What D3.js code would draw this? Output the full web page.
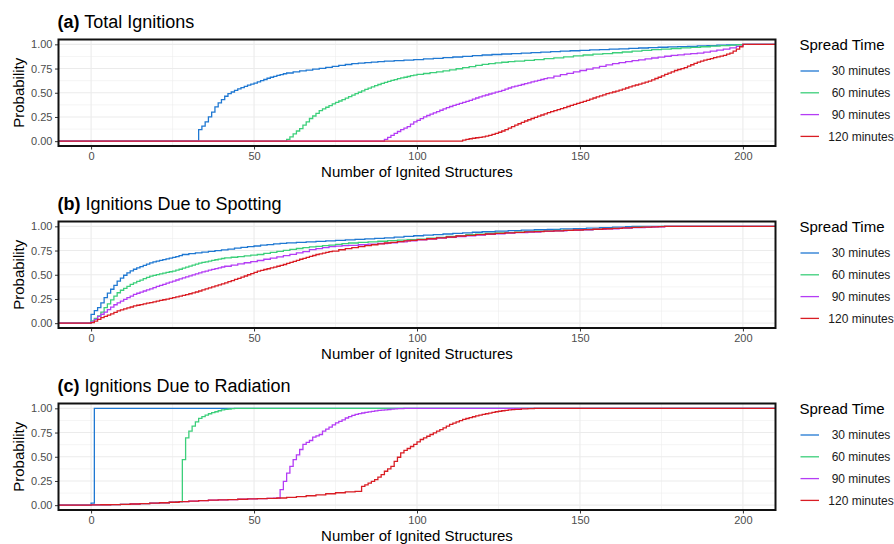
<!DOCTYPE html>
<html>
<head>
<meta charset="utf-8">
<script src="https://cdn.jsdelivr.net/npm/d3@7"></script>
<style>
  html, body { margin: 0; padding: 0; background: #fff; }
  svg { display: block; font-family: "Liberation Sans", Arial, sans-serif; }
</style>
</head>
<body>
<svg id="chart" width="894" height="544"></svg>
<script>
// ---- data: empirical CDF knots [structures, cumulative probability] ----
const seriesNames = ["30 minutes", "60 minutes", "90 minutes", "120 minutes"];
const panelTags = ["(a)", "(b)", "(c)"];
const panelTitles = ["Total Ignitions", "Ignitions Due to Spotting", "Ignitions Due to Radiation"];
const xTicks = [0, 50, 100, 150, 200];
const yTicks = [0, 0.25, 0.5, 0.75, 1];
const yTickLabels = ["0.00", "0.25", "0.50", "0.75", "1.00"];

// (a) total ignitions
const total30 = [[33,0.12],[34,0.155],[35,0.2],[36,0.25],[37,0.3],[38,0.354],[39,0.395],[40,0.43],[41,0.464],[42,0.49],[43,0.508],[44,0.525],[45,0.54],[46,0.553],[47,0.566],[48,0.578],[49,0.59],[50,0.6],[51,0.612],[52,0.625],[53,0.637],[54,0.65],[55,0.66],[56,0.67],[57,0.679],[58,0.688],[59,0.696],[60,0.704],[62,0.715],[64,0.725],[66,0.734],[68,0.743],[70,0.752],[72,0.762],[74,0.772],[76,0.782],[78,0.792],[80,0.8],[82,0.806],[84,0.812],[86,0.817],[88,0.822],[90,0.826],[93,0.832],[96,0.838],[99,0.843],[102,0.849],[105,0.856],[108,0.863],[111,0.869],[114,0.876],[117,0.883],[120,0.89],[123,0.895],[126,0.9],[129,0.905],[132,0.91],[135,0.915],[138,0.92],[141,0.925],[144,0.929],[147,0.934],[150,0.938],[153,0.942],[156,0.946],[159,0.95],[162,0.954],[165,0.958],[168,0.962],[171,0.966],[174,0.97],[177,0.974],[180,0.977],[183,0.98],[186,0.984],[189,0.987],[192,0.991],[195,0.994],[198,0.997],[200,1.0]];
const total60 = [[60,0.018],[61,0.045],[62,0.075],[63,0.105],[64,0.13],[65,0.165],[66,0.2],[67,0.234],[68,0.26],[69,0.288],[70,0.315],[71,0.333],[72,0.35],[73,0.368],[74,0.385],[75,0.4],[76,0.415],[77,0.43],[78,0.445],[79,0.46],[80,0.475],[81,0.49],[82,0.505],[83,0.52],[84,0.535],[85,0.548],[86,0.56],[87,0.573],[88,0.585],[89,0.596],[90,0.607],[91,0.617],[92,0.627],[93,0.636],[94,0.645],[95,0.653],[96,0.66],[97,0.668],[98,0.676],[99,0.683],[100,0.69],[102,0.699],[104,0.708],[106,0.716],[108,0.725],[110,0.736],[112,0.748],[114,0.759],[116,0.77],[118,0.783],[120,0.793],[122,0.801],[124,0.808],[126,0.815],[128,0.821],[130,0.827],[133,0.835],[136,0.843],[139,0.852],[142,0.861],[145,0.871],[148,0.881],[151,0.89],[154,0.898],[157,0.905],[160,0.913],[163,0.921],[166,0.93],[169,0.938],[172,0.945],[175,0.951],[178,0.957],[181,0.963],[184,0.969],[187,0.975],[190,0.981],[193,0.986],[196,0.992],[198,0.996],[200,1.0]];
const total90 = [[90,0.018],[91,0.04],[92,0.06],[93,0.08],[94,0.1],[95,0.12],[96,0.135],[97,0.15],[98,0.175],[99,0.2],[100,0.215],[101,0.232],[102,0.25],[103,0.265],[104,0.28],[105,0.292],[106,0.305],[107,0.319],[108,0.333],[109,0.347],[110,0.358],[111,0.369],[112,0.38],[113,0.39],[114,0.4],[115,0.41],[116,0.422],[117,0.434],[118,0.446],[119,0.457],[120,0.467],[121,0.477],[122,0.487],[123,0.497],[124,0.506],[125,0.515],[126,0.525],[127,0.537],[128,0.549],[129,0.56],[130,0.568],[131,0.577],[132,0.585],[133,0.594],[134,0.603],[135,0.612],[136,0.62],[137,0.628],[138,0.637],[139,0.645],[140,0.653],[142,0.671],[144,0.687],[146,0.7],[148,0.715],[150,0.73],[152,0.743],[154,0.757],[156,0.772],[158,0.787],[160,0.8],[162,0.811],[164,0.822],[166,0.831],[168,0.84],[170,0.85],[172,0.859],[174,0.868],[176,0.877],[178,0.886],[180,0.892],[182,0.898],[184,0.904],[186,0.91],[188,0.92],[190,0.93],[192,0.94],[194,0.95],[196,0.963],[198,0.978],[200,1.0]];
const total120 = [[114,0.01],[115,0.018],[116,0.025],[117,0.03],[118,0.035],[119,0.04],[120,0.045],[121,0.052],[122,0.06],[123,0.07],[124,0.08],[125,0.092],[126,0.105],[127,0.12],[128,0.135],[129,0.15],[130,0.165],[131,0.18],[132,0.195],[133,0.208],[134,0.221],[135,0.234],[136,0.246],[137,0.258],[138,0.27],[139,0.282],[140,0.294],[141,0.305],[142,0.316],[143,0.326],[144,0.337],[145,0.347],[146,0.358],[147,0.369],[148,0.38],[149,0.39],[150,0.4],[151,0.41],[152,0.422],[153,0.434],[154,0.446],[155,0.457],[156,0.468],[157,0.479],[158,0.49],[159,0.499],[160,0.508],[161,0.517],[162,0.527],[163,0.538],[164,0.549],[165,0.56],[166,0.57],[167,0.58],[168,0.59],[169,0.6],[170,0.61],[171,0.62],[172,0.633],[173,0.647],[174,0.66],[175,0.675],[176,0.69],[177,0.703],[178,0.716],[179,0.73],[180,0.74],[181,0.75],[182,0.76],[183,0.774],[184,0.789],[185,0.803],[186,0.817],[187,0.827],[188,0.836],[189,0.845],[190,0.853],[191,0.862],[192,0.87],[193,0.879],[194,0.887],[195,0.898],[196,0.91],[197,0.93],[198,0.95],[199,0.975],[200,1.0]];

// (b) ignitions due to spotting
const spot30 = [[0,0.09],[1,0.13],[2,0.16],[3,0.21],[4,0.263],[5,0.31],[6,0.35],[7,0.39],[8,0.435],[9,0.465],[10,0.495],[11,0.52],[12,0.54],[13,0.557],[14,0.57],[15,0.584],[16,0.597],[17,0.61],[18,0.623],[19,0.632],[20,0.64],[21,0.648],[22,0.656],[23,0.664],[24,0.672],[25,0.68],[26,0.688],[27,0.698],[28,0.709],[30,0.718],[32,0.726],[34,0.734],[36,0.742],[38,0.75],[40,0.757],[42,0.765],[44,0.774],[46,0.782],[48,0.79],[50,0.797],[52,0.805],[54,0.812],[56,0.818],[58,0.825],[60,0.83],[63,0.835],[66,0.84],[69,0.845],[72,0.85],[75,0.855],[78,0.86],[81,0.865],[84,0.87],[87,0.875],[90,0.88],[93,0.888],[96,0.896],[99,0.903],[102,0.909],[105,0.915],[108,0.921],[111,0.927],[114,0.933],[117,0.939],[120,0.944],[124,0.95],[128,0.955],[132,0.96],[136,0.965],[140,0.969],[144,0.973],[148,0.977],[152,0.982],[156,0.987],[160,0.992],[164,0.997],[166,1.0]];
const spot60 = [[0,0.024],[1,0.05],[2,0.075],[3,0.115],[4,0.16],[5,0.2],[6,0.24],[7,0.28],[8,0.314],[9,0.34],[10,0.36],[11,0.38],[12,0.4],[13,0.417],[14,0.431],[15,0.445],[16,0.459],[17,0.472],[18,0.485],[19,0.493],[20,0.502],[21,0.51],[22,0.517],[23,0.524],[24,0.531],[25,0.537],[26,0.547],[27,0.557],[28,0.568],[29,0.578],[30,0.589],[31,0.6],[32,0.61],[33,0.62],[34,0.627],[35,0.634],[36,0.641],[37,0.648],[38,0.655],[39,0.661],[40,0.668],[41,0.674],[43,0.681],[45,0.688],[47,0.695],[49,0.702],[51,0.709],[53,0.72],[55,0.731],[57,0.742],[59,0.752],[61,0.762],[63,0.771],[65,0.78],[67,0.787],[69,0.794],[71,0.8],[73,0.807],[75,0.814],[77,0.821],[79,0.828],[82,0.834],[85,0.84],[88,0.846],[91,0.852],[94,0.858],[97,0.863],[100,0.868],[103,0.878],[106,0.887],[109,0.897],[112,0.905],[115,0.913],[118,0.92],[121,0.927],[124,0.932],[127,0.936],[130,0.94],[133,0.945],[136,0.95],[139,0.954],[142,0.957],[145,0.96],[148,0.963],[151,0.966],[154,0.971],[157,0.976],[160,0.98],[163,0.985],[166,0.99],[169,0.994],[172,0.997],[175,1.0]];
const spot90 = [[0,0.013],[1,0.04],[2,0.07],[3,0.092],[4,0.115],[5,0.14],[6,0.165],[7,0.19],[8,0.21],[9,0.228],[10,0.245],[11,0.263],[12,0.28],[13,0.297],[14,0.309],[15,0.32],[16,0.332],[17,0.344],[18,0.355],[19,0.367],[20,0.379],[21,0.39],[22,0.401],[23,0.413],[24,0.424],[25,0.435],[26,0.446],[27,0.457],[28,0.467],[29,0.478],[30,0.489],[31,0.499],[32,0.51],[33,0.52],[34,0.529],[35,0.538],[36,0.547],[37,0.555],[38,0.564],[39,0.572],[40,0.58],[41,0.588],[43,0.6],[45,0.612],[47,0.624],[49,0.636],[51,0.647],[53,0.66],[55,0.672],[57,0.684],[59,0.697],[61,0.71],[63,0.725],[65,0.738],[67,0.759],[69,0.77],[71,0.78],[73,0.79],[75,0.796],[77,0.8],[79,0.804],[82,0.81],[85,0.817],[88,0.823],[91,0.83],[94,0.84],[97,0.851],[100,0.86],[103,0.869],[106,0.878],[109,0.887],[112,0.895],[115,0.903],[118,0.91],[121,0.917],[124,0.923],[127,0.929],[130,0.935],[134,0.941],[138,0.947],[142,0.953],[146,0.958],[150,0.963],[154,0.969],[158,0.975],[162,0.981],[166,0.987],[170,0.992],[173,0.996],[176,1.0]];
const spot120 = [[0,0.006],[1,0.02],[2,0.04],[3,0.058],[4,0.07],[5,0.083],[6,0.095],[7,0.111],[8,0.127],[9,0.137],[10,0.147],[11,0.157],[12,0.167],[13,0.178],[14,0.185],[15,0.192],[16,0.199],[17,0.206],[18,0.212],[19,0.22],[20,0.228],[21,0.235],[22,0.242],[23,0.249],[24,0.256],[25,0.263],[26,0.271],[27,0.279],[28,0.287],[29,0.295],[30,0.304],[31,0.313],[32,0.322],[33,0.332],[34,0.343],[35,0.354],[36,0.364],[37,0.375],[38,0.385],[39,0.396],[40,0.406],[41,0.417],[42,0.429],[43,0.44],[44,0.452],[45,0.463],[46,0.475],[47,0.487],[48,0.5],[49,0.512],[50,0.525],[51,0.537],[52,0.545],[53,0.554],[54,0.562],[55,0.57],[56,0.579],[57,0.588],[58,0.597],[59,0.606],[60,0.617],[61,0.627],[62,0.638],[63,0.649],[64,0.66],[65,0.67],[66,0.68],[67,0.69],[68,0.699],[69,0.709],[70,0.716],[71,0.723],[72,0.731],[73,0.738],[74,0.745],[76,0.758],[78,0.77],[80,0.78],[82,0.79],[84,0.8],[86,0.81],[88,0.819],[90,0.828],[92,0.835],[94,0.842],[96,0.849],[98,0.856],[100,0.863],[103,0.872],[106,0.881],[109,0.89],[112,0.9],[115,0.907],[118,0.914],[121,0.921],[124,0.928],[127,0.933],[130,0.938],[133,0.942],[136,0.946],[139,0.95],[142,0.954],[145,0.958],[148,0.962],[151,0.966],[154,0.97],[157,0.975],[160,0.98],[163,0.985],[166,0.989],[169,0.992],[172,0.995],[174,0.998],[176,1.0]];

// (c) ignitions due to radiation
const rad30 = [[0,0.02],[1,1.0]];
const rad60 = [[0,0.002],[3,0.004],[6,0.006],[9,0.009],[12,0.012],[15,0.016],[18,0.02],[21,0.025],[24,0.03],[26,0.035],[28,0.47],[29,0.695],[30,0.765],[31,0.816],[32,0.86],[33,0.896],[34,0.915],[35,0.93],[36,0.944],[37,0.955],[38,0.965],[39,0.975],[40,0.985],[41,0.99],[42,0.993],[43,0.997],[44,1.0]];
const rad90 = [[0,0.002],[3,0.004],[6,0.006],[9,0.009],[12,0.012],[15,0.016],[18,0.02],[21,0.025],[24,0.03],[27,0.037],[30,0.042],[33,0.047],[36,0.051],[39,0.055],[42,0.058],[45,0.061],[48,0.064],[51,0.067],[54,0.07],[56,0.073],[58,0.16],[59,0.246],[60,0.33],[61,0.4],[62,0.47],[63,0.52],[64,0.575],[65,0.627],[66,0.648],[67,0.668],[68,0.703],[69,0.715],[70,0.73],[71,0.765],[72,0.785],[73,0.806],[74,0.83],[75,0.85],[76,0.866],[77,0.88],[78,0.9],[79,0.915],[80,0.927],[81,0.937],[82,0.945],[83,0.952],[84,0.958],[85,0.964],[86,0.969],[87,0.974],[88,0.978],[89,0.982],[90,0.985],[91,0.988],[92,0.991],[93,0.994],[94,0.997],[96,1.0]];
const rad120 = [[0,0.002],[3,0.004],[6,0.006],[9,0.009],[12,0.012],[15,0.016],[18,0.02],[21,0.025],[24,0.03],[27,0.037],[30,0.042],[33,0.047],[36,0.051],[39,0.055],[42,0.058],[45,0.061],[48,0.064],[51,0.067],[54,0.07],[57,0.074],[60,0.08],[63,0.088],[66,0.097],[69,0.106],[72,0.118],[75,0.128],[78,0.137],[81,0.143],[83,0.194],[84,0.21],[85,0.228],[86,0.245],[87,0.263],[88,0.29],[89,0.315],[90,0.35],[91,0.375],[92,0.4],[93,0.453],[94,0.495],[95,0.54],[96,0.565],[97,0.585],[98,0.606],[99,0.627],[100,0.653],[101,0.678],[102,0.695],[103,0.712],[104,0.73],[105,0.747],[106,0.764],[107,0.78],[108,0.798],[109,0.816],[110,0.834],[111,0.847],[112,0.86],[113,0.873],[114,0.886],[115,0.895],[116,0.904],[117,0.913],[118,0.922],[119,0.93],[120,0.937],[121,0.944],[122,0.951],[123,0.958],[124,0.965],[125,0.97],[126,0.975],[127,0.98],[128,0.984],[129,0.987],[130,0.99],[132,0.994],[134,0.997],[136,1.0]];

const panelSeries = [
  [total30, total60, total90, total120],
  [spot30, spot60, spot90, spot120],
  [rad30, rad60, rad90, rad120]
];

// ---- styling ----
const colors = ["#1f78d2", "#3ccf7a", "#b43cf5", "#d91d24"];
const plotLeft = 58.5, plotRight = 775.5;
const panelTop0 = 39.5, panelStep = 182, panelH = 106.5;

const svg = d3.select("#chart");

const x = d3.scaleLinear().domain([-10, 210]).range([plotLeft, plotRight]);
const xMinor = [25, 75, 125, 175];
const yMinor = [0.125, 0.375, 0.625, 0.875];

const line = d3.line()
  .x(d => x(d[0]))
  .curve(d3.curveStepAfter);

panelSeries.forEach((seriesList, pi) => {
  const top = panelTop0 + pi * panelStep;
  const bottom = top + panelH;
  const y = d3.scaleLinear().domain([-0.05, 1.05]).range([bottom, top]);
  line.y(d => y(d[1]));

  const g = svg.append("g");

  // panel title
  const title = g.append("text")
    .attr("x", 57.5)
    .attr("y", top - 11.5)
    .attr("font-size", 18)
    .attr("fill", "#000");
  title.append("tspan").attr("font-weight", "bold").text(panelTags[pi]);
  title.append("tspan").text(" " + panelTitles[pi]);

  // grid: minor then major
  const grid = g.append("g");
  grid.selectAll(".vminor").data(xMinor).join("line")
    .attr("x1", d => x(d)).attr("x2", d => x(d))
    .attr("y1", top).attr("y2", bottom)
    .attr("stroke", "#ebebeb").attr("stroke-width", 0.55);
  grid.selectAll(".hminor").data(yMinor).join("line")
    .attr("x1", plotLeft).attr("x2", plotRight)
    .attr("y1", d => y(d)).attr("y2", d => y(d))
    .attr("stroke", "#ebebeb").attr("stroke-width", 0.55);
  grid.selectAll(".vmajor").data(xTicks).join("line")
    .attr("x1", d => x(d)).attr("x2", d => x(d))
    .attr("y1", top).attr("y2", bottom)
    .attr("stroke", "#ebebeb").attr("stroke-width", 1.1);
  grid.selectAll(".hmajor").data(yTicks).join("line")
    .attr("x1", plotLeft).attr("x2", plotRight)
    .attr("y1", d => y(d)).attr("y2", d => y(d))
    .attr("stroke", "#ebebeb").attr("stroke-width", 1.1);

  // clip for the step lines
  const clipId = "clip" + pi;
  svg.append("clipPath").attr("id", clipId)
    .append("rect").attr("x", plotLeft).attr("y", top)
    .attr("width", plotRight - plotLeft).attr("height", panelH);

  const lines = g.append("g").attr("clip-path", `url(#${clipId})`);
  seriesList.forEach((pts, si) => {
    const last = pts[pts.length - 1];
    // padded ECDF: zero from the left edge, last value to the right edge
    const padded = [[-10, 0], ...pts, [210, last[1]]];
    lines.append("path")
      .attr("d", line(padded))
      .attr("fill", "none")
      .attr("stroke", colors[si])
      .attr("stroke-width", 1.3)
      .attr("stroke-linejoin", "miter");
  });

  // axes
  const xAxis = d3.axisBottom(x).tickValues(xTicks).tickSize(3.5).tickPadding(2.5).tickFormat(d3.format("d"));
  const yAxis = d3.axisLeft(y).tickValues(yTicks).tickSize(3.5).tickPadding(2.5)
    .tickFormat((d, i) => yTickLabels[i]);

  const gx = g.append("g").attr("transform", `translate(0,${bottom})`).call(xAxis);
  const gy = g.append("g").attr("transform", `translate(${plotLeft},0)`).call(yAxis);
  [gx, gy].forEach(a => {
    a.select(".domain").remove();
    a.selectAll(".tick line").attr("stroke", "#333").attr("stroke-width", 1);
    a.selectAll(".tick text").attr("fill", "#4d4d4d").attr("font-size", 11)
      .attr("font-family", "'Liberation Sans', Arial, sans-serif");
  });

  // panel border
  g.append("rect")
    .attr("x", plotLeft).attr("y", top)
    .attr("width", plotRight - plotLeft).attr("height", panelH)
    .attr("fill", "none").attr("stroke", "#111").attr("stroke-width", 2);

  // axis titles
  g.append("text")
    .attr("x", (plotLeft + plotRight) / 2)
    .attr("y", bottom + 31)
    .attr("text-anchor", "middle")
    .attr("font-size", 15)
    .attr("fill", "#000")
    .text("Number of Ignited Structures");

  g.append("text")
    .attr("transform", `translate(23.5,${(top + bottom) / 2}) rotate(-90)`)
    .attr("text-anchor", "middle")
    .attr("font-size", 15)
    .attr("fill", "#000")
    .text("Probability");

  // legend
  const lg = g.append("g");
  lg.append("text")
    .attr("x", 799.5).attr("y", top + 10.8)
    .attr("font-size", 15).attr("fill", "#000")
    .text("Spread Time");
  seriesNames.forEach((name, si) => {
    const ly = top + 31.5 + si * 21.8;
    lg.append("line")
      .attr("x1", 800.5).attr("x2", 819)
      .attr("y1", ly).attr("y2", ly)
      .attr("stroke", colors[si]).attr("stroke-width", 1.3);
    lg.append("text")
      .attr("x", 861).attr("y", ly + 4.2)
      .attr("text-anchor", "middle")
      .attr("font-size", 12).attr("fill", "#1a1a1a")
      .text(name);
  });
});
</script>
</body>
</html>
